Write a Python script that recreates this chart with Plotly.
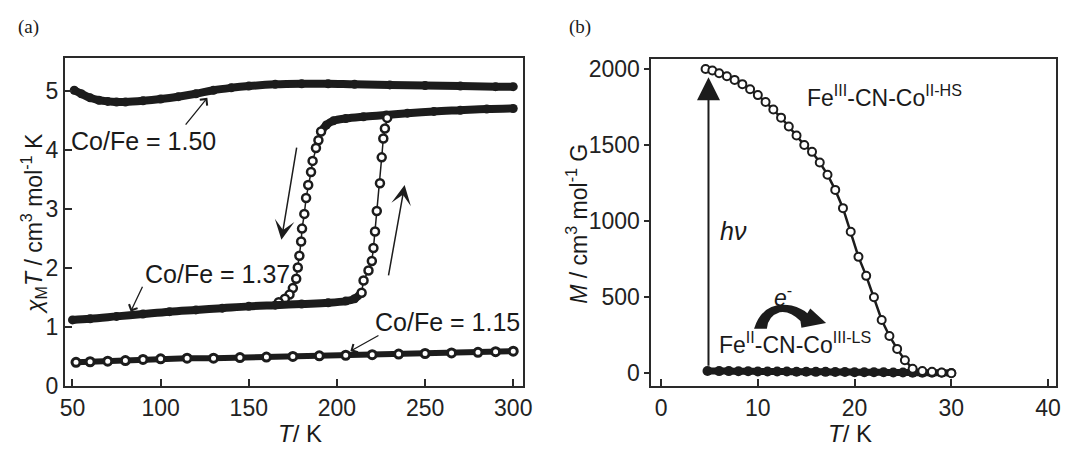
import plotly.graph_objects as go

# ---------------- data: panel (a) ----------------
T_150 = [51, 55, 60, 65, 70, 75, 80, 90, 100, 110, 120, 130, 140, 150, 165, 180, 195, 210, 230, 250, 270, 290, 300]
chi_150 = [5.02, 4.96, 4.89, 4.85, 4.83, 4.82, 4.82, 4.84, 4.87, 4.91, 4.96, 5.02, 5.06, 5.09, 5.12, 5.13, 5.13, 5.12, 5.11, 5.10, 5.09, 5.08, 5.08]

cool_high_T = [300, 285, 270, 255, 240, 228, 215, 205, 198, 194, 191]
cool_high_chi = [4.71, 4.70, 4.68, 4.66, 4.63, 4.60, 4.57, 4.54, 4.50, 4.43, 4.32]
cool_drop_T = [191, 189.5, 188.1, 186.2, 185.3, 183.7, 182.5, 181.5, 180.2, 179.7, 178.7, 177.8, 176.9, 175, 173.1, 170.5, 167]
cool_drop_chi = [4.32, 4.17, 4.04, 3.82, 3.63, 3.41, 3.19, 2.92, 2.67, 2.45, 2.21, 2.01, 1.82, 1.66, 1.55, 1.48, 1.42]

heat_low_T = [50, 60, 75, 90, 105, 120, 135, 150, 165, 180, 195, 205, 210, 214]
heat_low_chi = [1.12, 1.14, 1.18, 1.22, 1.26, 1.29, 1.32, 1.35, 1.37, 1.39, 1.41, 1.44, 1.48, 1.58]
heat_rise_T = [214, 215.1, 217.9, 219.8, 220.7, 221.6, 222.6, 224.4, 225.4, 226.3, 227.2, 228.5]
heat_rise_chi = [1.58, 1.79, 1.96, 2.12, 2.34, 2.62, 2.97, 3.44, 3.88, 4.20, 4.37, 4.55]

T_115 = [52, 60, 70, 80, 90, 100, 115, 130, 145, 160, 175, 190, 205, 220, 235, 250, 265, 280, 290, 300]
chi_115 = [0.40, 0.41, 0.42, 0.43, 0.45, 0.46, 0.47, 0.47, 0.48, 0.49, 0.50, 0.51, 0.52, 0.53, 0.54, 0.55, 0.56, 0.57, 0.58, 0.59]

xticks_a = [50, 100, 150, 200, 250, 300]
yticks_a = [0, 1, 2, 3, 4, 5]

# ---------------- data: panel (b) ----------------
T_hs = [4.6, 5.3, 6.0, 6.8, 7.6, 8.4, 9.2, 10.0, 10.8, 11.6, 12.4, 13.2, 14.0, 14.8, 15.6, 16.4, 17.2, 18.0,
        18.8, 19.6, 20.4, 21.2, 22.0, 22.8, 23.6, 24.4, 25.2, 26.0, 27.0, 28.0, 29.0, 30.0]
M_hs = [2000, 1990, 1972, 1952, 1928, 1900, 1866, 1828, 1783, 1733, 1680, 1622, 1562, 1500, 1455, 1385, 1305, 1205,
        1085, 930, 765, 640, 500, 350, 245, 160, 85, 30, 15, 10, 5, 0]
T_ls = [4.8, 6, 7, 8, 9, 10, 11, 12, 13, 14, 15, 16, 17, 18, 19, 20, 21, 22, 23, 24, 25, 26, 27, 28, 29, 30]
M_ls = [15, 14, 14, 13, 13, 12, 12, 11, 11, 10, 10, 9, 9, 8, 8, 7, 7, 6, 6, 5, 5, 4, 4, 3, 3, 2]

xticks_b = [0, 10, 20, 30, 40]
yticks_b = [0, 500, 1000, 1500, 2000]

INK = "#1c1c1c"
AX = "#2a2a2a"
FONT = "Liberation Sans, Arial, sans-serif"
SERIF = "Liberation Serif, Times New Roman, serif"
W, H = 1067, 450

fig = go.Figure()

def band(x, y, xa, ya, width=8, msize=9):
    fig.add_trace(go.Scatter(x=x, y=y, xaxis=xa, yaxis=ya, mode="lines+markers",
                             line=dict(color=INK, width=width, shape="spline"),
                             marker=dict(symbol="circle", size=msize, color=INK),
                             showlegend=False, hoverinfo="skip"))

def ring(x, y, xa, ya, lw=1.5, msize=8, mlw=2.5):
    fig.add_trace(go.Scatter(x=x, y=y, xaxis=xa, yaxis=ya, mode="lines+markers",
                             line=dict(color=INK, width=lw),
                             marker=dict(symbol="circle", size=msize, color="white",
                                         line=dict(color=INK, width=mlw)),
                             showlegend=False, hoverinfo="skip"))

band(T_150, chi_150, "x", "y", 8, 9)
band(cool_high_T, cool_high_chi, "x", "y", 8, 9)
ring(cool_drop_T, cool_drop_chi, "x", "y")
band(heat_low_T, heat_low_chi, "x", "y", 8, 9)
ring(heat_rise_T, heat_rise_chi, "x", "y")
ring(T_115, chi_115, "x", "y", lw=6, msize=8, mlw=3)
band(T_ls, M_ls, "x2", "y2", 7, 10)
ring(T_hs, M_hs, "x2", "y2", lw=2.5, msize=8, mlw=2)

def px2paper(x, y):
    return x / W, 1 - y / H

def dom_x(a, b):
    return [a / W, b / W]

def dom_y(top, bottom):
    return [1 - bottom / H, 1 - top / H]

axis_common = dict(showline=True, linecolor=AX, linewidth=2, mirror=True, showgrid=False,
                   zeroline=False, ticks="inside", ticklen=7, tickwidth=1.5, tickcolor=AX,
                   tickfont=dict(family=FONT, size=23, color="#222"))

fig.update_layout(
    width=W, height=H, margin=dict(l=0, r=0, t=0, b=0),
    paper_bgcolor="white", plot_bgcolor="white",
    xaxis=dict(domain=dom_x(60.7, 525), range=[45.7, 305.6], tickvals=xticks_a,
               anchor="y", **axis_common),
    yaxis=dict(domain=dom_y(57.3, 396.7), range=[-0.01, 5.56], tickvals=yticks_a,
               anchor="x", **axis_common),
    xaxis2=dict(domain=dom_x(655, 1065), range=[-1.0, 40.82], tickvals=xticks_b,
                anchor="y2", **axis_common),
    yaxis2=dict(domain=dom_y(58.3, 396.7), range=[-87, 2063], tickvals=yticks_b,
                anchor="x2", **axis_common),
)
fig.update_yaxes(ticks="outside", ticklen=5, selector=dict(anchor="x2"))

ann = []
def text(x, y, s, size=21, xref="x", yref="y", xanchor="center", yanchor="middle", angle=0, family=FONT):
    ann.append(dict(x=x, y=y, xref=xref, yref=yref, text=s, showarrow=False, xanchor=xanchor,
                    yanchor=yanchor, textangle=angle,
                    font=dict(family=family, size=size, color="#1a1a1a")))

def arrow(x, y, ax, ay, head, aw, asz, xref="x", yref="y"):
    ann.append(dict(x=x, y=y, ax=ax, ay=ay, xref=xref, yref=yref, axref=xref, ayref=yref, text="",
                    showarrow=True, arrowhead=head, arrowwidth=aw, arrowsize=asz, arrowcolor=INK,
                    standoff=0, startstandoff=0))

text(*px2paper(24, 25), "(a)", 19, "paper", "paper", family=SERIF)
text(*px2paper(583, 25), "(b)", 19, "paper", "paper", family=SERIF)
text(*px2paper(29, 228), "<i>χ</i><sub>M</sub><i>T</i> / cm<sup>3</sup> mol<sup>-1</sup> K", 23, "paper", "paper", angle=-90)
text(*px2paper(299, 445), "<i>T</i>/ K", 24, "paper", "paper")
text(*px2paper(580, 228), "<i>M</i> / cm<sup>3</sup> mol<sup>-1</sup> G", 23, "paper", "paper", angle=-90)
text(*px2paper(856, 445), "<i>T</i>/ K", 24, "paper", "paper")

text(90.1, 4.15, "Co/Fe = 1.50", 25)
text(132.1, 1.90, "Co/Fe = 1.37", 25)
text(262.6, 1.08, "Co/Fe = 1.15", 25)
arrow(126.5, 4.89, 113.5, 4.41, 4, 1.3, 1.4)
arrow(83.0, 1.26, 90.1, 1.71, 4, 1.3, 1.4)
arrow(207.6, 0.59, 224.4, 0.87, 4, 1.3, 1.4)
arrow(168.5, 2.48, 177.3, 4.07, 3, 1.5, 2.2)
arrow(238.4, 3.41, 229.1, 1.85, 3, 1.5, 2.2)

arrow(4.9, 1946, 4.9, 40, 2, 2, 2.3, "x2", "y2")
text(7.45, 934, "<i>hν</i>", 25, "x2", "y2")
text(12.65, 508, "<i>e</i><sup>-</sup>", 23, "x2", "y2")
text(14.9, 1823, "Fe<sup>III</sup>-CN-Co<sup>II-HS</sup>", 23, "x2", "y2", xanchor="left")
text(5.79, 197, "Fe<sup>II</sup>-CN-Co<sup>III-LS</sup>", 23, "x2", "y2", xanchor="left")

fig.update_layout(annotations=ann)

pts = [("M", [(759, 337)]), ("Q", [(768, 308), (797, 313)]), ("Q", [(808, 316), (813, 321)]),
       ("L", [(816, 316)]), ("L", [(832, 331)]), ("L", [(807, 336)]), ("L", [(806, 329)]),
       ("Q", [(795, 318), (785, 320)]), ("Q", [(773, 324), (772, 337)])]
path = ""
for cmd, plist in pts:
    path += cmd + " " + " ".join("%.5f,%.5f" % px2paper(a, b) for a, b in plist) + " "
path += "Z"
fig.add_shape(type="path", path=path, xref="paper", yref="paper", fillcolor=INK, line=dict(width=0))

post = "document.body.style.margin='0px';"
fig.write_html("out.html", config={"displayModeBar": False}, post_script=post)
